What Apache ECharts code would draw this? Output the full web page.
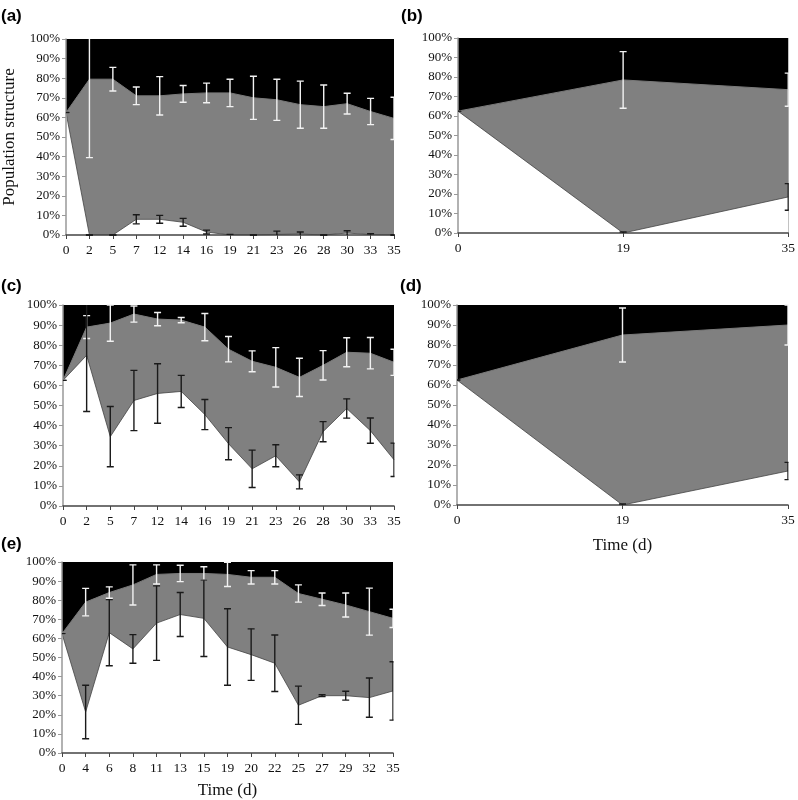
<!DOCTYPE html>
<html>
<head>
<meta charset="utf-8">
<script src="https://cdn.jsdelivr.net/npm/echarts@6/dist/echarts.min.js"></script>
<style>html,body{margin:0;padding:0;background:#fff}#c{width:798px;height:800px}</style>
</head>
<body>
<div id="c"></div>
<script>
// ---- data ----
const timesA = ['0','2','5','7','12','14','16','19','21','23','26','28','30','33','35'];
const upperA = [62.5,79.5,79.5,71,71,72,72.5,72.5,70,69,66.5,65.5,67,63,59.5];
const upperErrA = [0,40,6,4.5,9.8,4.3,5,7,11,10.5,12,11,5.3,6.7,10.8];
const lowerA = [62.5,0,0,8,8,6.5,1.5,0,0,0.3,0.5,0,1,0.2,0];
const lowerErrA = [0,0,0,2.3,2,2,1,0.3,0,1.7,1,0,1.2,0.4,0];

const timesB = ['0','19','35'];
const upperB = [62.5,78.5,73.5];
const upperErrB = [0,14.5,8.5];
const lowerB = [62.5,0,18.5];
const lowerErrB = [0,0.5,6.8];

const timesC = ['0','2','5','7','12','14','16','19','21','23','26','28','30','33','35'];
const upperC = [62.5,89,91,95.5,93,92.5,89,78,72,69,64,70,76.5,76,71.5];
const upperErrC = [0,5.7,9,4,3.3,1.3,6.8,6.3,5.2,9.8,9.5,7.3,7.2,7.8,6.5];
const lowerC = [62.5,75,34.5,52.5,56,57,45.5,31,18.5,25,12,37,48.5,37.5,23];
const lowerErrC = [0,28,15,15,14.8,8,7.5,8,9.3,5.5,3.5,5,4.8,6.3,8.3];

const timesD = ['0','19','35'];
const upperD = [62.5,85,90];
const upperErrD = [0,13.5,10];
const lowerD = [62.5,0,17];
const lowerErrD = [0,0.5,4.3];

const timesE = ['0','4','6','8','11','13','15','19','20','22','25','27','29','32','35'];
const upperE = [62.5,79,84,88,93.5,94,94,93.5,92,92,83.5,80.5,77.5,74,70.5];
const upperErrE = [0,7.2,3,10.5,5,4.3,3.5,6.3,3.5,3.5,4.5,3.3,6.3,12.3,4.8];
const lowerE = [62.5,21.5,63,54.5,68,72.5,70.5,55.5,51.5,47,25,30,30,29,32.5];
const lowerErrE = [0,14,17.3,7.5,19.5,11.5,20,20,13.5,14.8,10,0.5,2.3,10.3,15.3];

const yTicks = [0,10,20,30,40,50,60,70,80,90,100];

// ---- layout ----
const panels = [
  {lab:'(a)', t:timesA, up:upperA, ue:upperErrA, lo:lowerA, le:lowerErrA, grid:{left:65,top:39,width:329,height:196}, labPos:[1,8], yName:'Population structure', xName:''},
  {lab:'(b)', t:timesB, up:upperB, ue:upperErrB, lo:lowerB, le:lowerErrB, grid:{left:458,top:38,width:331,height:195}, labPos:[401,8], yName:'', xName:''},
  {lab:'(c)', t:timesC, up:upperC, ue:upperErrC, lo:lowerC, le:lowerErrC, grid:{left:63,top:305,width:331,height:201}, labPos:[1,278], yName:'', xName:''},
  {lab:'(d)', t:timesD, up:upperD, ue:upperErrD, lo:lowerD, le:lowerErrD, grid:{left:457,top:305,width:331,height:200}, labPos:[400,278], yName:'', xName:'Time (d)', xGap:32},
  {lab:'(e)', t:timesE, up:upperE, ue:upperErrE, lo:lowerE, le:lowerErrE, grid:{left:62,top:562,width:331,height:191}, labPos:[1,536], yName:'', xName:'Time (d)', xGap:29}
];

const serif = '"Liberation Serif","Times New Roman",serif';
const grids = [], xAxes = [], yAxes = [], series = [], titles = [];

function errRender(color) {
  return function (params, api) {
    const i = api.value(0), m = api.value(1), e = api.value(2);
    let hi = m + e, lo = m - e;
    const capHi = hi <= 100, capLo = lo >= 0;
    hi = Math.min(hi, 100); lo = Math.max(lo, 0);
    const pHi = api.coord([i, hi]), pLo = api.coord([i, lo]);
    const x = pHi[0], w = 3.5;
    const st = {stroke: color, lineWidth: 1.4};
    const ch = [{type:'line', shape:{x1:x,y1:pHi[1],x2:x,y2:pLo[1]}, style:st}];
    if (capHi) ch.push({type:'line', shape:{x1:x-w,y1:pHi[1],x2:x+w,y2:pHi[1]}, style:st});
    if (capLo) ch.push({type:'line', shape:{x1:x-w,y1:pLo[1],x2:x+w,y2:pLo[1]}, style:st});
    const cs = params.coordSys;
    return {type:'group', children: ch, clipPath:{type:'rect', shape:{x:cs.x, y:cs.y-1, width:cs.width+0.5, height:cs.height+2}}};
  };
}

panels.forEach((p, k) => {
  grids.push(Object.assign({show:true, backgroundColor:'#000', borderWidth:0}, p.grid));
  xAxes.push({
    gridIndex:k, type:'category', data:p.t, boundaryGap:false, z:5,
    axisLine:{show:true, lineStyle:{color:'#444', width:1.5}},
    axisTick:{show:true, length:4, lineStyle:{color:'#444', width:1}},
    axisLabel:{fontFamily:serif, fontSize:13.5, color:'#111', margin:8},
    splitLine:{show:false},
    name:p.xName, nameLocation:'middle', nameGap:p.xGap||30,
    nameTextStyle:{fontFamily:serif, fontSize:17, color:'#111'}
  });
  yAxes.push({
    gridIndex:k, type:'value', min:0, max:100, interval:10, z:5,
    axisLine:{show:true, lineStyle:{color:'#999', width:1.5}},
    axisTick:{show:true, length:4, lineStyle:{color:'#999', width:1}},
    axisLabel:{fontFamily:serif, fontSize:13, color:'#111', margin:6, formatter:'{value}%'},
    splitLine:{show:false},
    name:p.yName, nameLocation:'middle', nameGap:48, nameRotate:90,
    nameTextStyle:{fontFamily:serif, fontSize:17, color:'#111'}
  });
  series.push({
    type:'line', xAxisIndex:k, yAxisIndex:k, data:p.up, symbol:'none', z:2,
    lineStyle:{color:'#7a7a7a', width:1}, areaStyle:{color:'#808080', opacity:1, origin:'start'}
  });
  series.push({
    type:'line', xAxisIndex:k, yAxisIndex:k, data:p.lo, symbol:'none', z:3,
    lineStyle:{color:'#444', width:0.8}, areaStyle:{color:'#ffffff', opacity:1, origin:'start'}
  });
  series.push({
    type:'custom', xAxisIndex:k, yAxisIndex:k, z:6,
    data:p.t.map((_, i) => [i, p.up[i], p.ue[i]]),
    renderItem: errRender('#f2f2f2')
  });
  series.push({
    type:'custom', xAxisIndex:k, yAxisIndex:k, z:6,
    data:p.t.map((_, i) => [i, p.lo[i], p.le[i]]),
    renderItem: errRender('#1a1a1a')
  });
  titles.push({text:p.lab, left:p.labPos[0], top:p.labPos[1], padding:0,
    textStyle:{fontFamily:'"Liberation Sans",Arial,sans-serif', fontWeight:'bold', fontSize:17, color:'#000'}});
});

const chart = echarts.init(document.getElementById('c'), null, {renderer:'canvas'});
chart.setOption({
  animation:false, backgroundColor:'#fff',
  title:titles, grid:grids, xAxis:xAxes, yAxis:yAxes, series:series
});
</script>
</body>
</html>
